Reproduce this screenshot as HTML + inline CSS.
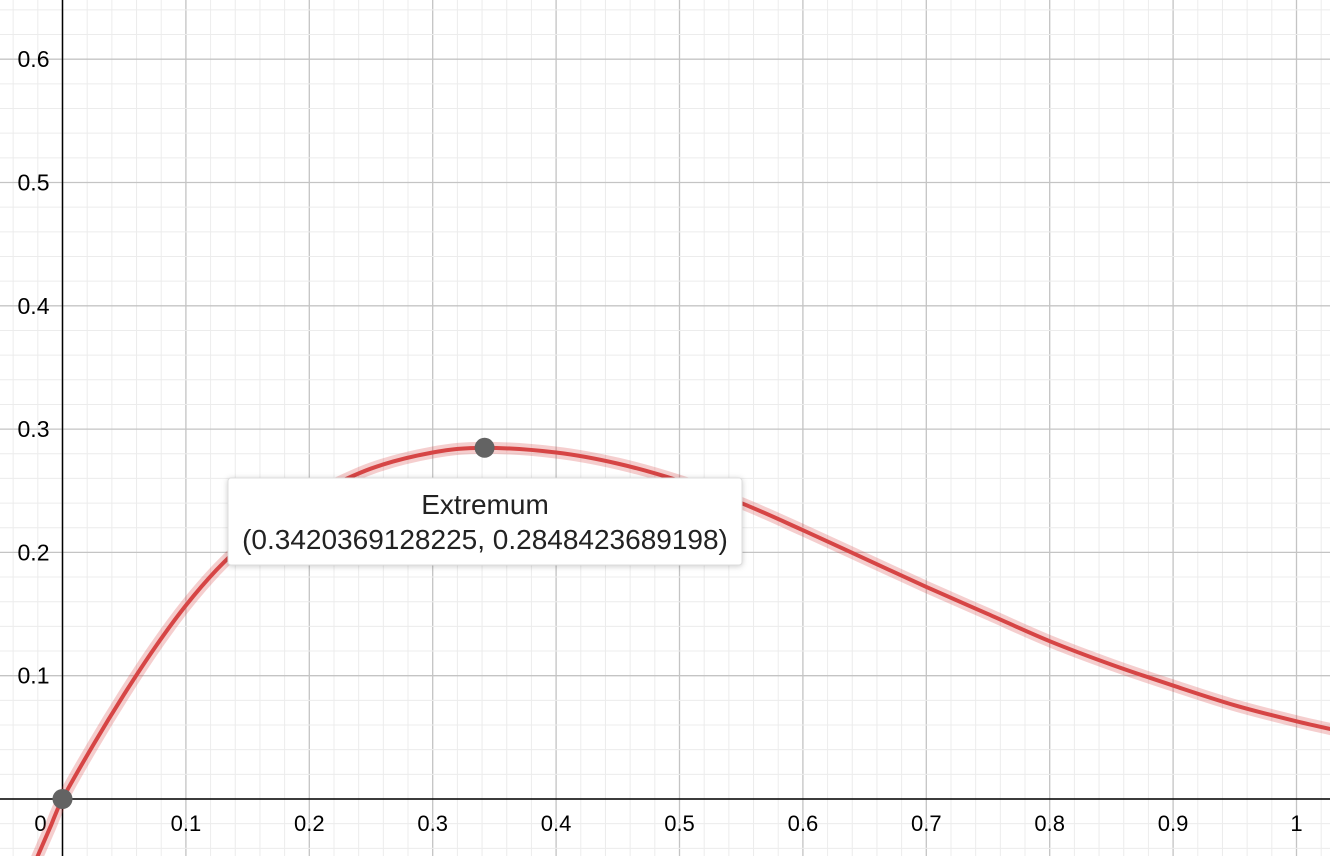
<!DOCTYPE html>
<html><head><meta charset="utf-8"><style>
html,body{margin:0;padding:0;background:#fff;}
svg{display:block;font-family:"Liberation Sans",Arial,sans-serif;}
</style></head><body>
<svg id="chart" width="1330" height="856" viewBox="0 0 1330 856" xmlns="http://www.w3.org/2000/svg">
<g id="grid"></g>
<g id="axes"></g>
<g id="labels"></g>
<g id="curveg"></g>
<g id="pts"></g>
<g>
<rect x="228" y="478" width="514" height="87" rx="3" fill="#fff" stroke="#ddd" style="filter:drop-shadow(0 1px 3px rgba(0,0,0,0.2))"/>
<text x="485" y="514" text-anchor="middle" font-size="28" fill="#222">Extremum</text>
<text x="485" y="549" text-anchor="middle" font-size="28" fill="#222">(0.3420369128225, 0.2848423689198)</text>
</g>
</svg>
<script>
const curveX=[-0.03,-0.02,-0.01,0,0.025,0.05,0.075,0.1,0.125,0.15,0.175,0.2,0.25,0.3,0.342,0.4,0.45,0.5,0.55,0.6,0.65,0.7,0.75,0.8,0.85,0.9,0.95,1.0,1.04];
const curveY=[-0.07,-0.046,-0.023,0,0.044,0.085,0.123,0.157,0.186,0.21,0.23,0.245,0.268,0.281,0.2848,0.281,0.272,0.258,0.24,0.218,0.195,0.172,0.15,0.128,0.109,0.092,0.076,0.063,0.054];
const xTicks=[0.1,0.2,0.3,0.4,0.5,0.6,0.7,0.8,0.9,1];
const xTickLabels=["0.1","0.2","0.3","0.4","0.5","0.6","0.7","0.8","0.9","1"];
const yTicks=[0.1,0.2,0.3,0.4,0.5,0.6];
const yTickLabels=["0.1","0.2","0.3","0.4","0.5","0.6"];
const pointsX=[0,0.3420369128225];
const pointsY=[0,0.2848423689198];
const ns="http://www.w3.org/2000/svg";
const X=v=>62.5+v*1234;
const Y=v=>799-v*1233;
function mk(tag,attrs,parent){const e=document.createElementNS(ns,tag);for(const k in attrs)e.setAttribute(k,attrs[k]);parent.appendChild(e);return e;}
const grid=document.getElementById('grid');
for(let i=-5;i<=55;i++){const v=i*0.02;const px=X(v);if(px<0||px>1330)continue;
 const l=mk('line',{x1:px,x2:px,y1:0,y2:856,stroke:i%5===0?'#c4c4c4':'#ececec','stroke-width':i%5===0?1.3:1},grid);
 }
for(let i=-5;i<=40;i++){const v=i*0.02;const py=Y(v);if(py<0||py>856)continue;
 const l=mk('line',{x1:0,x2:1330,y1:py,y2:py,stroke:i%5===0?'#c4c4c4':'#ececec','stroke-width':i%5===0?1.3:1},grid);
 }
const axes=document.getElementById('axes');
let a=mk('line',{x1:0,x2:1330,y1:Y(0),y2:Y(0),stroke:'#000','stroke-width':1.5},axes);

a=mk('line',{x1:X(0),x2:X(0),y1:0,y2:856,stroke:'#000','stroke-width':1.5},axes);

const lab=document.getElementById('labels');
xTicks.forEach((v,i)=>{const t=mk('text',{x:X(v),y:Y(0)+32,'text-anchor':'middle','font-size':22,fill:'#000'},lab);t.textContent=xTickLabels[i];
 });
let t0=mk('text',{x:X(0)-22,y:Y(0)+32,'text-anchor':'middle','font-size':22,fill:'#000'},lab);t0.textContent='0';

yTicks.forEach((v,i)=>{const t=mk('text',{x:X(0)-13,y:Y(v)+8,'text-anchor':'end','font-size':23,fill:'#000'},lab);t.textContent=yTickLabels[i];
 });
const cg=document.getElementById('curveg');
const P=curveX.map((x,i)=>[X(x),Y(curveY[i])]);
let d='M'+P[0][0]+','+P[0][1];
for(let i=0;i<P.length-1;i++){const p0=P[Math.max(0,i-1)],p1=P[i],p2=P[i+1],p3=P[Math.min(P.length-1,i+2)];
 d+=' C'+(p1[0]+(p2[0]-p0[0])/6)+','+(p1[1]+(p2[1]-p0[1])/6)+' '+(p2[0]-(p3[0]-p1[0])/6)+','+(p2[1]-(p3[1]-p1[1])/6)+' '+p2[0]+','+p2[1];}
let c=mk('path',{d:d,fill:'none',stroke:'rgba(214,60,60,0.25)','stroke-width':12,'stroke-linecap':'round'},cg);

c=mk('path',{d:d,fill:'none',stroke:'#d64545','stroke-width':4,'stroke-linecap':'round'},cg);

const pg=document.getElementById('pts');
pointsX.forEach((x,i)=>{const p=mk('circle',{cx:X(x),cy:Y(pointsY[i]),r:10,fill:'#636363'},pg);
 });
</script>
</body></html>
